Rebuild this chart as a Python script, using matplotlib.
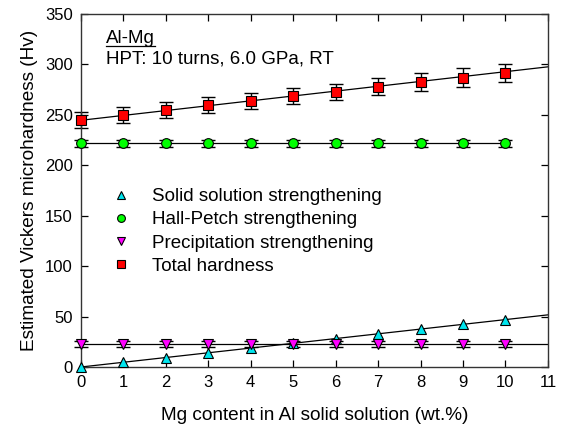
import numpy as np
import matplotlib.pyplot as plt

plt.rcParams['font.family'] = ['Liberation Sans', 'DejaVu Sans']

# data
mg = [0, 1, 2, 3, 4, 5, 6, 7, 8, 9, 10]
solid = [0, 4.7, 9.4, 14.1, 18.8, 23.5, 28.2, 32.9, 37.6, 42.3, 47.0]
hall_petch = [222, 222, 222, 222, 222, 222, 222, 222, 222, 222, 222]
precip = [22.5, 22.5, 22.5, 22.5, 22.5, 22.5, 22.5, 22.5, 22.5, 22.5, 22.5]
total = [245, 250, 254.5, 259.5, 264, 268.5, 273, 278, 282.5, 287, 291.5]
total_err = [8, 8, 8, 8, 8, 8, 8, 8.5, 8.5, 9, 9]
hp_err = [3.5] * 11
pr_err = [3] * 11

# fitted lines (end points)
fit_x = [0, 11]
total_fit = [244.6, 297.6]
solid_fit = [0, 51.7]
precip_fit = [22.5, 22.5]
hp_fit_x = [0, 10]
hp_fit = [222, 222]

fig = plt.figure(figsize=(5.66, 4.30), dpi=100)
ax = fig.add_axes([0.143, 0.1465, 0.825, 0.821])

lw = 0.9
ax.plot(fit_x, total_fit, color='black', lw=lw, zorder=1)
ax.plot(fit_x, solid_fit, color='black', lw=lw, zorder=1)
ax.plot(fit_x, precip_fit, color='black', lw=lw, zorder=1)
ax.plot(hp_fit_x, hp_fit, color='black', lw=lw, zorder=1)

ms = 7
for yv, ye in [(precip, pr_err), (hall_petch, hp_err), (total, total_err)]:
    eb = ax.errorbar(mg, yv, yerr=ye, fmt='none', ecolor='black', elinewidth=1,
                     capsize=5, capthick=1, zorder=2)
    for art in list(eb.lines[1]) + list(eb.lines[2]):
        art.set_clip_on(False)

ax.plot(mg, solid, ls='none', marker='^', ms=ms, mfc='#00e5ee', mec='black', mew=0.8,
        label='Solid solution strengthening', zorder=3, clip_on=False)
ax.plot(mg, hall_petch, ls='none', marker='o', ms=ms, mfc='#00ff00', mec='black', mew=0.8,
        label='Hall-Petch strengthening', zorder=3, clip_on=False)
ax.plot(mg, precip, ls='none', marker='v', ms=ms, mfc='#ff00ff', mec='black', mew=0.8,
        label='Precipitation strengthening', zorder=3, clip_on=False)
ax.plot(mg, total, ls='none', marker='s', ms=ms - 0.5, mfc='#ff0000', mec='black', mew=0.8,
        label='Total hardness', zorder=3, clip_on=False)

ax.set_xlim(0, 11)
ax.set_ylim(0, 350)
ax.set_xticks(range(0, 12))
ax.set_yticks(range(0, 351, 50))
ax.tick_params(direction='in', top=True, right=True, labelsize=12, length=5, width=0.9, pad=6)
for s in ax.spines.values():
    s.set_linewidth(1.0)
    s.set_color('#333333')

ax.set_xlabel('Mg content in Al solid solution (wt.%)', fontsize=13.7, labelpad=12)
ax.set_ylabel('Estimated Vickers microhardness (Hv)', fontsize=13.7, labelpad=5)

ax.legend(loc='upper left', bbox_to_anchor=(0.03, 0.555), frameon=False, fontsize=13.5,
          handletextpad=1.15, labelspacing=0.33, handlelength=1.0, markerscale=0.8,
          borderpad=0.4)

t = ax.text(0.053, 0.93, 'Al-Mg', transform=ax.transAxes, fontsize=13.5, va='center')
ax.text(0.053, 0.873, 'HPT: 10 turns, 6.0 GPa, RT', transform=ax.transAxes, fontsize=13.5, va='center')

# underline under "Al-Mg"
fig.canvas.draw()
bb = t.get_window_extent().transformed(ax.transAxes.inverted())
ax.plot([bb.x0, bb.x1], [bb.y0 + 0.004, bb.y0 + 0.004], transform=ax.transAxes,
        color='black', lw=0.9, clip_on=False)

fig.savefig('out.png', dpi=100)
